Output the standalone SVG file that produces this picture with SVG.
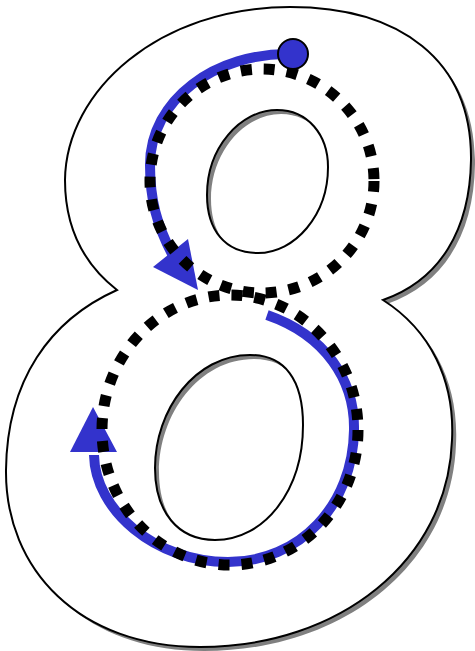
<svg xmlns="http://www.w3.org/2000/svg" width="475" height="651" viewBox="0 0 475 651">
<style>
.shape{fill-rule:evenodd}
.blue{fill:none;stroke:#3333cc;stroke-width:10}
.head{fill:#3333cc;stroke:none}
.dots{fill:none;stroke:#000;stroke-width:11;stroke-dasharray:11 12}
</style>
<defs>
<path id="eight" d="M 290 7 C 400 7, 472 60, 471 160 C 470 230, 440 280, 383 300 C 430 330, 455 380, 452 440 C 448 560, 340 647, 200 647 C 80 647, 5 570, 6 470 C 7 380, 50 320, 117 290 C 85 265, 65 230, 65 180 C 66 90, 160 7, 290 7 Z M 277 110 C 308 110, 328 135, 328 167 C 328 215, 295 253, 258 253 C 225 253, 207 230, 207 195 C 207 148, 240 110, 277 110 Z M 250 355 C 285 355, 303 380, 303 425 C 303 490, 265 540, 215 540 C 178 540, 155 512, 155 468 C 155 410, 195 355, 250 355 Z"/>
</defs>
<g id="figure-eight">
<use href="#eight" class="shape" transform="translate(4,4)" fill="#808080"/>
<use href="#eight" class="shape" fill="#ffffff" stroke="#000" stroke-width="2"/>
</g>
<g id="strokes">
<path class="blue" d="M 293 54 C 215 52, 150 100, 150 165 C 150 200, 157 225, 172 254"/>
<polygon class="head" points="153,267 188,239 198,290"/>
<path class="blue" d="M 267 315 C 325 335, 355 380, 354 430 C 353 505, 300 562, 228 562 C 155 562, 95 510, 94 455"/>
<polygon class="head" points="93,407 70,452 117,452"/>
</g>
<g id="guides">
<circle class="dots" cx="262" cy="181" r="112"/>
<ellipse class="dots" cx="230" cy="430" rx="128" ry="135"/>
</g>
<g id="start">
<circle cx="293" cy="54" r="15" fill="#3333cc" stroke="#000" stroke-width="2"/>
</g>
</svg>
